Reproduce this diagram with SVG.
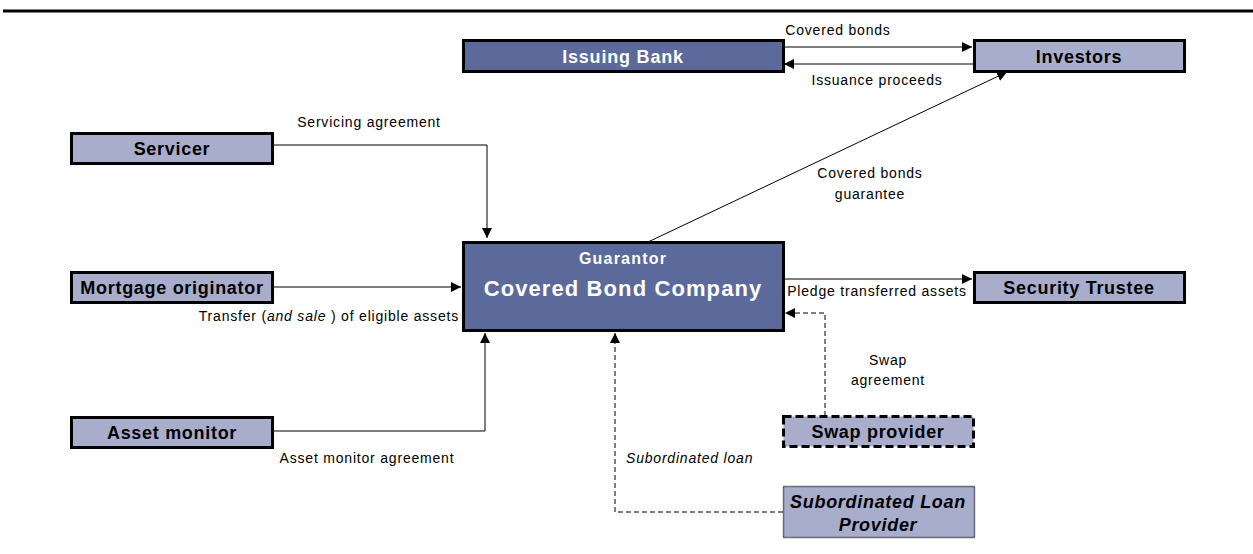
<svg xmlns="http://www.w3.org/2000/svg" width="1253" height="554" viewBox="0 0 1253 554">
<style>
.dark{fill:#5b6a9a;stroke:#000;stroke-width:3}
.light{fill:#a9adcc;stroke:#000;stroke-width:3}
.wt{font-family:"Liberation Sans",Arial,sans-serif;font-weight:bold;fill:#fff;text-anchor:middle}
.bt{font-family:"Liberation Sans",Arial,sans-serif;font-weight:bold;fill:#000;text-anchor:middle;font-size:18px;letter-spacing:0.7px}
.lbl{font-family:"Liberation Sans",Arial,sans-serif;fill:#000;font-size:14px;letter-spacing:0.8px;text-anchor:middle}
.ln{fill:none;stroke:#000;stroke-width:1}
.dl{fill:none;stroke:#000;stroke-width:1;stroke-dasharray:5,3}
</style>
<defs>
<marker id="ah" viewBox="0 0 10 10" refX="10" refY="5" markerWidth="10" markerHeight="10" markerUnits="userSpaceOnUse" orient="auto">
<path d="M0,0 L10,5 L0,10 z" fill="#000"/>
</marker>
</defs>
<rect width="1253" height="554" fill="#fff"/>
<line x1="3" y1="11" x2="1253" y2="11" stroke="#000" stroke-width="3"/>

<g id="connectors">
<line class="ln" x1="783" y1="47" x2="972" y2="47" marker-end="url(#ah)"/>
<line class="ln" x1="973" y1="64" x2="784" y2="64" marker-end="url(#ah)"/>
<polyline class="ln" points="272,145 487,145 487,238" marker-end="url(#ah)"/>
<line class="ln" x1="272" y1="287" x2="461" y2="287" marker-end="url(#ah)"/>
<polyline class="ln" points="272,431 485,431 485,333" marker-end="url(#ah)"/>
<line class="ln" x1="648" y1="242" x2="1007" y2="72" marker-end="url(#ah)"/>
<line class="ln" x1="785" y1="279" x2="972" y2="279" marker-end="url(#ah)"/>
<polyline class="dl" points="825,416 825,313 785,313" marker-end="url(#ah)"/>
<polyline class="dl" points="783,512 615,512 615,333" marker-end="url(#ah)"/>
<text class="lbl" x="838" y="35">Covered bonds</text>
<text class="lbl" x="877" y="85">Issuance proceeds</text>
<text class="lbl" x="369" y="127">Servicing agreement</text>
<text class="lbl" x="459" y="321" style="text-anchor:end">Transfer (<tspan font-style="italic">and sale</tspan> ) of eligible assets</text>
<text class="lbl" x="367" y="463">Asset monitor agreement</text>
<text class="lbl" x="870" y="178">Covered bonds</text>
<text class="lbl" x="870" y="199">guarantee</text>
<text class="lbl" x="877" y="296">Pledge transferred assets</text>
<text class="lbl" x="888" y="365">Swap</text>
<text class="lbl" x="888" y="385">agreement</text>
<text class="lbl" x="626" y="463" font-style="italic" style="text-anchor:start">Subordinated loan</text>
</g>

<g id="issuing-bank">
<rect class="dark" x="463.5" y="40.5" width="320" height="31"/>
<text class="wt" x="623" y="63" font-size="18" letter-spacing="0.8">Issuing Bank</text>
</g>
<g id="investors">
<rect class="light" x="974.5" y="40.5" width="210" height="31"/>
<text class="bt" x="1079" y="63">Investors</text>
</g>
<g id="servicer">
<rect class="light" x="71.5" y="133.5" width="201" height="30"/>
<text class="bt" x="172" y="155">Servicer</text>
</g>
<g id="mortgage-originator">
<rect class="light" x="71.5" y="272.5" width="201" height="30"/>
<text class="bt" x="172" y="294">Mortgage originator</text>
</g>
<g id="asset-monitor">
<rect class="light" x="71.5" y="417.5" width="201" height="30"/>
<text class="bt" x="172" y="439">Asset monitor</text>
</g>
<g id="guarantor">
<rect class="dark" x="463.5" y="242.5" width="320" height="88"/>
<text class="wt" x="623" y="264" font-size="16" letter-spacing="1.2">Guarantor</text>
<text class="wt" x="623" y="296" font-size="22" letter-spacing="1.1">Covered Bond Company</text>
</g>
<g id="security-trustee">
<rect class="light" x="974.5" y="272.5" width="210" height="30"/>
<text class="bt" x="1079" y="294">Security Trustee</text>
</g>
<g id="swap-provider">
<rect class="light" x="783.5" y="416.5" width="190" height="30" style="stroke-dasharray:8,4"/>
<text class="bt" x="878" y="438">Swap provider</text>
</g>
<g id="subordinated-loan-provider">
<rect x="783.5" y="486.5" width="191" height="51" fill="#a9adcc" stroke="#000" stroke-width="1.5" stroke-dasharray="1,1"/>
<text class="bt" x="878" y="508" font-style="italic">Subordinated Loan</text>
<text class="bt" x="878" y="531" font-style="italic">Provider</text>
</g>
</svg>
